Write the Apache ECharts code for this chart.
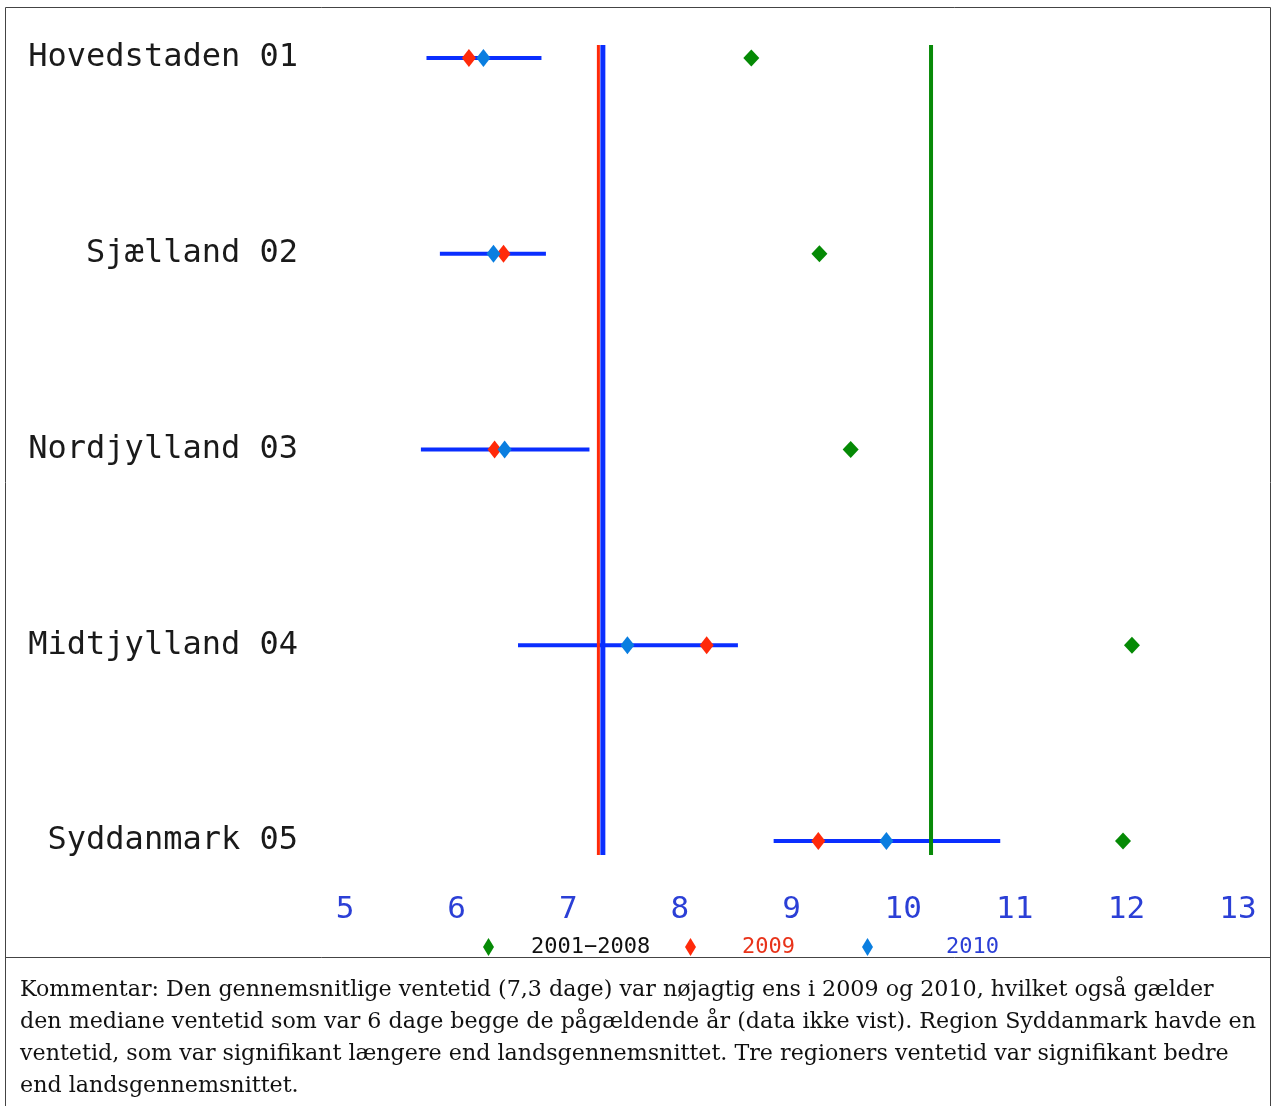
<!DOCTYPE html>
<html>
<head>
<meta charset="utf-8">
<script src="https://cdn.jsdelivr.net/npm/echarts@6/dist/echarts.min.js"></script>
<style>html,body{margin:0;padding:0;background:#fff;}#chart{width:1271px;height:1106px;}</style>
</head>
<body>
<div id="chart"></div>
<script>
const categories = ['Hovedstaden 01', 'Sjælland 02', 'Nordjylland 03', 'Midtjylland 04', 'Syddanmark 05'];
const v2001_2008 = [8.64, 9.25, 9.53, 12.05, 11.97];
const v2009 = [6.11, 6.42, 6.34, 8.24, 9.24];
const v2010 = [6.24, 6.33, 6.43, 7.53, 9.85];
const ciLow2010 = [5.73, 5.85, 5.68, 6.55, 8.84];
const ciHigh2010 = [6.76, 6.80, 7.19, 8.52, 10.87];
const avg2009 = 7.27;
const avg2010 = 7.31;
const avg2001_2008 = 10.25;
const xMin = 5, xMax = 13, xStep = 1;
const seriesNames = ['2001\u22122008', '2009', '2010'];
const commentLines = [
  'Kommentar: Den gennemsnitlige ventetid (7,3 dage) var nøjagtig ens i 2009 og 2010, hvilket også gælder',
  'den mediane ventetid som var 6 dage begge de pågældende år (data ikke vist). Region Syddanmark havde en',
  'ventetid, som var signifikant længere end landsgennemsnittet. Tre regioners ventetid var signifikant bedre',
  'end landsgennemsnittet.'
];

const chart = echarts.init(document.getElementById('chart'), null, {renderer: 'canvas'});

function vline(value, color, width) {
  return {
    type: 'custom', z: 2, silent: true,
    data: [[value]],
    renderItem: function (params, api) {
      const v = api.value(0);
      const p0 = api.coord([v, 0]);
      const p1 = api.coord([v, categories.length - 1]);
      return {type: 'line', shape: {x1: p0[0], y1: p0[1] - 13, x2: p1[0], y2: p1[1] + 14},
        style: {stroke: color, lineWidth: width}};
    }
  };
}

const monoFont = '"DejaVu Sans Mono", "Liberation Mono", monospace';

const option = {
  animation: false,
  backgroundColor: '#ffffff',
  grid: {left: 345, right: 33, top: 58, bottom: 265},
  xAxis: {
    type: 'value', min: xMin, max: xMax, interval: xStep,
    axisLine: {show: false}, axisTick: {show: false}, splitLine: {show: false},
    axisLabel: {margin: 53, color: '#2b3fd6', fontSize: 31, fontFamily: monoFont}
  },
  yAxis: {
    type: 'category', data: categories, inverse: true, boundaryGap: false,
    axisLine: {show: false}, axisTick: {show: false}, splitLine: {show: false},
    axisLabel: {margin: 47, color: '#1a1a1a', fontSize: 32, fontFamily: monoFont,
      lineHeight: 32, padding: [8, 0, 0, 0]}
  },
  legend: [
    {data: [{name: seriesNames[0], textStyle: {color: '#111'}}], left: 483, top: 936},
    {data: [{name: seriesNames[1], textStyle: {color: '#e8331a'}}], left: 685, top: 936},
    {data: [{name: seriesNames[2], textStyle: {color: '#2b3fd6'}}], left: 862, top: 936}
  ].map(function (l, i) {
    const pads = [32, 41, 68];
    return Object.assign(l, {
      selectedMode: false, icon: 'diamond', itemWidth: 11, itemHeight: 18, padding: 0,
      itemStyle: {opacity: 1},
      textStyle: Object.assign({fontFamily: monoFont, fontSize: 22, padding: [0, 0, 0, pads[i]]}, l.data[0].textStyle)
    });
  }),
  series: [
    {
      type: 'custom', z: 1, silent: true,
      data: categories.map(function (c, i) { return [ciLow2010[i], ciHigh2010[i], i]; }),
      renderItem: function (params, api) {
        const a = api.coord([api.value(0), api.value(2)]);
        const b = api.coord([api.value(1), api.value(2)]);
        return {type: 'line', shape: {x1: a[0], y1: a[1], x2: b[0], y2: b[1]},
          style: {stroke: '#0a2eff', lineWidth: 4}};
      }
    },
    vline(avg2009, '#ff2a0a', 3),
    vline(avg2010, '#0a2eff', 5),
    vline(avg2001_2008, '#088a08', 4),
    {
      name: seriesNames[0], type: 'scatter', z: 3, symbol: 'diamond', symbolSize: [16, 17],
      itemStyle: {color: '#058a05', opacity: 1},
      data: v2001_2008.map(function (v, i) { return [v, i]; })
    },
    {
      name: seriesNames[1], type: 'scatter', z: 3, symbol: 'diamond', symbolSize: [14, 18],
      itemStyle: {color: '#ff2a0a', opacity: 1},
      data: v2009.map(function (v, i) { return [v, i]; })
    },
    {
      name: seriesNames[2], type: 'scatter', z: 4, symbol: 'diamond', symbolSize: [14, 18],
      itemStyle: {color: '#0a7ee0', opacity: 1},
      data: v2010.map(function (v, i) { return [v, i]; })
    }
  ],
  graphic: [
    {type: 'rect', shape: {x: 5.5, y: 7.5, width: 1265, height: 950}, style: {fill: 'none', stroke: '#444', lineWidth: 1}, silent: true},
    {type: 'line', shape: {x1: 5.5, y1: 957, x2: 5.5, y2: 1106}, style: {stroke: '#444', lineWidth: 1}, silent: true},
    {type: 'line', shape: {x1: 1270.5, y1: 957, x2: 1270.5, y2: 1106}, style: {stroke: '#444', lineWidth: 1}, silent: true},
    {type: 'text', left: 20, top: 974, silent: true,
      style: {text: commentLines.join('\n'), font: '22.2px "DejaVu Serif", serif', lineHeight: 32, fill: '#111'}}
  ]
};
chart.setOption(option);
</script>
</body>
</html>
